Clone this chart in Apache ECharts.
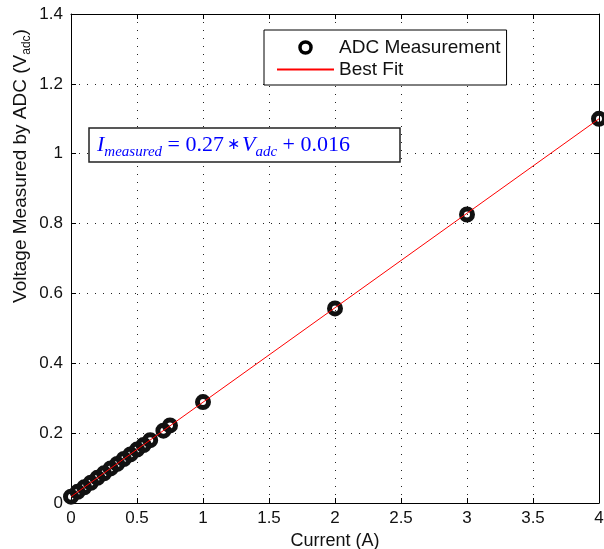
<!DOCTYPE html>
<html>
<head>
<meta charset="utf-8">
<script src="https://cdn.jsdelivr.net/npm/echarts@6/dist/echarts.min.js"></script>
<style>html,body{margin:0;padding:0;background:#fff}#c{width:604px;height:549px}</style>
</head>
<body>
<div id="c"></div>
<script>
// Measured data: current (A) vs ADC voltage (V)
var currents = [0, 0.05, 0.1, 0.15, 0.2, 0.25, 0.3, 0.35, 0.4, 0.45, 0.5, 0.55, 0.6, 0.7, 0.75, 1, 2, 3, 4];
var voltages = [0.018, 0.032, 0.045, 0.058, 0.072, 0.085, 0.099, 0.112, 0.126, 0.139, 0.153, 0.166, 0.180, 0.207, 0.222, 0.289, 0.557, 0.826, 1.100];
// Best fit line endpoints
var fitX = [0, 4];
var fitY = [0.018, 1.100];
var xTicks = {min: 0, max: 4, interval: 0.5};
var yTicks = {min: 0, max: 1.4, interval: 0.2};

var FONT = '"Liberation Sans", Arial, Helvetica, sans-serif';
var SERIF = '"Liberation Serif", "Times New Roman", serif';

var scatterData = currents.map(function (c, i) { return [c, voltages[i]]; });
var fitData = fitX.map(function (x, i) { return [x, fitY[i]]; });

var axisCommon = {
  type: 'value',
  axisLine: {show: true, onZero: false, lineStyle: {color: '#000', width: 1}},
  axisTick: {show: true, inside: true, length: 5, lineStyle: {color: '#000'}}
};

var chart = echarts.init(document.getElementById('c'), null, {renderer: 'canvas'});
chart.setOption({
  animation: false,
  backgroundColor: '#fff',
  grid: {left: 71, right: 5, top: 14, bottom: 46, containLabel: false, outerBoundsMode: 'none'},
  xAxis: [
    Object.assign({}, axisCommon, {
      min: xTicks.min, max: xTicks.max, interval: xTicks.interval,
      position: 'bottom',
      name: 'Current (A)', nameLocation: 'middle', nameGap: 27,
      nameTextStyle: {fontFamily: FONT, fontSize: 18, color: '#111'},
      axisLabel: {fontFamily: FONT, fontSize: 17, color: '#111', margin: 7},
      splitLine: {show: true, lineStyle: {color: '#222', type: [1, 7], width: 1}}
    }),
    Object.assign({}, axisCommon, {
      min: xTicks.min, max: xTicks.max, interval: xTicks.interval,
      position: 'top',
      axisLabel: {show: false},
      splitLine: {show: false}
    })
  ],
  yAxis: [
    Object.assign({}, axisCommon, {
      min: yTicks.min, max: yTicks.max, interval: yTicks.interval,
      position: 'left',
      axisLabel: {fontFamily: FONT, fontSize: 17, color: '#111', margin: 8},
      splitLine: {show: true, lineStyle: {color: '#222', type: [1, 7], width: 1}}
    }),
    Object.assign({}, axisCommon, {
      min: yTicks.min, max: yTicks.max, interval: yTicks.interval,
      position: 'right',
      axisLabel: {show: false},
      splitLine: {show: false}
    })
  ],
  legend: {
    orient: 'vertical',
    left: 264, top: 30,
    backgroundColor: '#fff',
    borderColor: '#000', borderWidth: 1,
    padding: [8, 6, 6, 12],
    itemGap: 3,
    itemWidth: 57, itemHeight: 11,
    textStyle: {fontFamily: FONT, fontSize: 19, color: '#111'},
    data: [
      {name: 'ADC Measurement', icon: 'circle', itemStyle: {color: '#fff', borderColor: '#000', borderWidth: 3.5, opacity: 1}},
      {name: 'Best Fit', itemStyle: {opacity: 0}}
    ]
  },
  graphic: [
    {
      type: 'rect', z: 100,
      shape: {x: 89, y: 128, width: 311, height: 34},
      style: {fill: '#fff', stroke: '#222', lineWidth: 1.5}
    },
    {
      type: 'text', z: 101, x: 97, y: 145,
      style: {
        text: '{i|I}{s|measured}{n| = 0.27}{st|\u2217}{i|V}{s|adc}{n| + 0.016}',
        verticalAlign: 'middle', align: 'left',
        rich: {
          i: {fontFamily: SERIF, fontStyle: 'italic', fontSize: 22, fill: '#0000ff', lineHeight: 30, verticalAlign: 'middle'},
          s: {fontFamily: SERIF, fontStyle: 'italic', fontSize: 15, fill: '#0000ff', lineHeight: 16, verticalAlign: 'bottom'},
          st: {fontFamily: SERIF, fontSize: 16, fill: '#0000ff', lineHeight: 30, verticalAlign: 'middle', padding: [0, 2, 0, 3]},
          n: {fontFamily: SERIF, fontSize: 22, fill: '#0000ff', lineHeight: 30, verticalAlign: 'middle'}
        }
      }
    },
    {
      type: 'text', z: 101, x: 21, y: 166, rotation: Math.PI / 2,
      style: {
        text: '{n|Voltage Measured by ADC (V}{s|adc}{n|)}',
        align: 'center', verticalAlign: 'middle',
        rich: {
          n: {fontFamily: FONT, fontSize: 19, fill: '#111', lineHeight: 24, verticalAlign: 'middle'},
          s: {fontFamily: FONT, fontSize: 12, fill: '#111', lineHeight: 13, verticalAlign: 'bottom'}
        }
      }
    }
  ],
  series: [
    {
      name: 'ADC Measurement',
      type: 'scatter',
      xAxisIndex: 0, yAxisIndex: 0,
      symbol: 'circle',
      symbolSize: 11,
      itemStyle: {color: 'rgba(255,255,255,0)', borderColor: '#111', borderWidth: 5, opacity: 1},
      data: scatterData,
      z: 2
    },
    {
      name: 'Best Fit',
      type: 'line',
      xAxisIndex: 0, yAxisIndex: 0,
      showSymbol: false,
      symbol: 'none',
      lineStyle: {color: '#ff0000', width: 1},
      itemStyle: {color: '#ff0000'},
      data: fitData,
      z: 3
    }
  ]
});
</script>
</body>
</html>
